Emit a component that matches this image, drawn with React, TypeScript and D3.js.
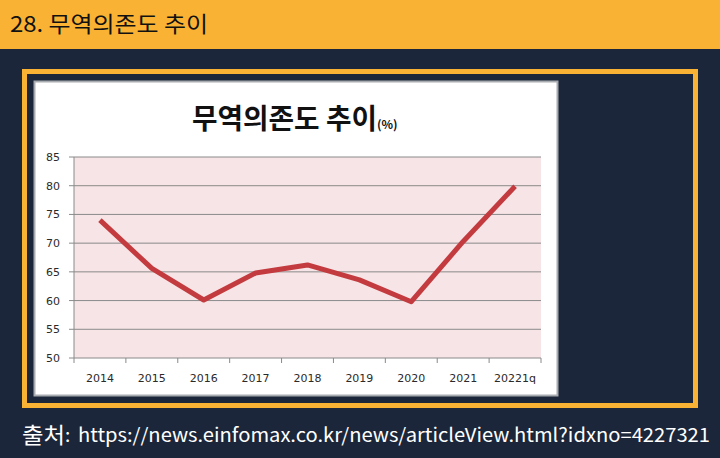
import React from "react";
import * as d3 from "d3";

const categories = ["2014", "2015", "2016", "2017", "2018", "2019", "2020", "2021", "20221q"];
const values = [74.0, 65.6, 60.1, 64.8, 66.2, 63.6, 59.8, 70.3, 79.9];
const yTicks = [50, 55, 60, 65, 70, 75, 80, 85];

const W = 720;
const H = 458;
const plot = { left: 74, right: 541, top: 157, bottom: 358 };

export default function App() {
  const x = d3.scaleBand<string>().domain(categories).range([plot.left, plot.right]).padding(0);
  const y = d3.scaleLinear().domain([50, 85]).range([plot.bottom, plot.top]);
  const line = d3
    .line<number>()
    .x((_, i) => (x(categories[i]) as number) + x.bandwidth() / 2)
    .y((d) => y(d));
  const kr = "'Noto Sans CJK KR', 'Noto Sans', sans-serif";
  const tick = "'DejaVu Sans', sans-serif";
  const boundaries = categories.map((c) => x(c) as number).concat([plot.right]);

  return (
    <svg width={W} height={H} style={{ position: "absolute", left: 0, top: 0, display: "block" }}>
      <rect x={0} y={0} width={W} height={H} fill="#1B263A" />
      <rect x={0} y={0} width={W} height={49} fill="#F9B233" />
      <text x={10} y={32} fontFamily={kr} fontSize={22} fill="#111" textLength={198} lengthAdjust="spacingAndGlyphs">
        28. 무역의존도 추이
      </text>

      <rect x={24.5} y={71.5} width={671} height={334} fill="none" stroke="#F9B233" strokeWidth={5} />

      <rect x={34.5} y={81.5} width={523} height={314} fill="#fff" stroke="#A8ABB0" strokeWidth={2} />

      <text x={192} y={129} fontFamily={kr} fontSize={28} fontWeight={700} fill="#111" textLength={185} lengthAdjust="spacingAndGlyphs">
        무역의존도 추이
      </text>
      <text x={377} y={129} fontFamily={kr} fontSize={12} fontWeight={700} fill="#111">
        (%)
      </text>

      <rect x={plot.left} y={plot.top} width={plot.right - plot.left} height={plot.bottom - plot.top} fill="#F7E4E6" />
      {yTicks.map((t) => (
        <g key={t}>
          <line x1={plot.left - 5} x2={plot.right} y1={y(t)} y2={y(t)} stroke="#8A8A8A" strokeWidth={1} />
          <text x={plot.left - 14} y={y(t) + 4} textAnchor="end" fontFamily={tick} fontSize={11} fill="#2a2a2a">
            {t}
          </text>
        </g>
      ))}
      <line x1={plot.left} x2={plot.left} y1={plot.top} y2={plot.bottom} stroke="#8A8A8A" strokeWidth={1} />
      {boundaries.map((b, i) => (
        <line key={i} x1={b} x2={b} y1={plot.bottom} y2={plot.bottom + 5} stroke="#8A8A8A" strokeWidth={1} />
      ))}
      {categories.map((c) => (
        <text
          key={c}
          x={(x(c) as number) + x.bandwidth() / 2}
          y={plot.bottom + 24}
          textAnchor="middle"
          fontFamily={tick}
          fontSize={11}
          fill="#2a2a2a"
        >
          {c}
        </text>
      ))}

      <path d={line(values) || ""} fill="none" stroke="#C33B3E" strokeWidth={5} strokeLinejoin="round" />

      <text x={22} y={443} fontFamily={kr} fontSize={22} fill="#fff" textLength={43} lengthAdjust="spacingAndGlyphs">
        출처
      </text>
      <text x={65} y={442} fontFamily={kr} fontSize={19} fill="#fff">
        :
      </text>
      <text x={78} y={442} fontFamily={kr} fontSize={19} fill="#fff" textLength={632} lengthAdjust="spacingAndGlyphs">
        https://news.einfomax.co.kr/news/articleView.html?idxno=4227321
      </text>
    </svg>
  );
}
